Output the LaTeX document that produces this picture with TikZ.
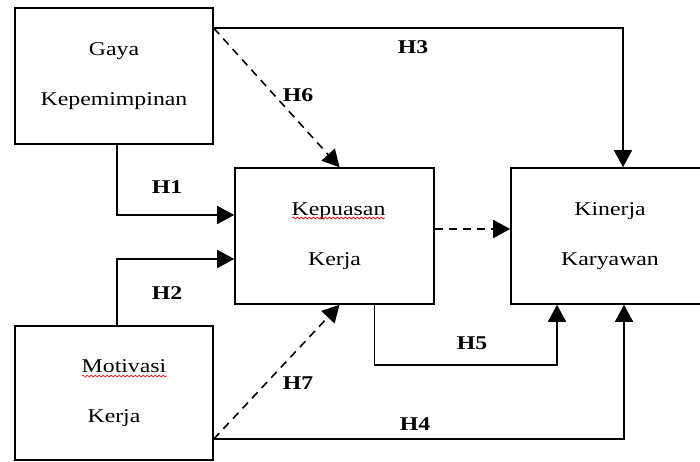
\documentclass[tikz,border=0pt]{standalone}
\usepackage{fontspec}
\setmainfont{Liberation Serif}
\usepackage{graphicx}
\usetikzlibrary{arrows.meta,calc,decorations.pathmorphing}
\newcommand\sx[1]{\scalebox{1.22}[1]{#1}}
\begin{document}
\begin{tikzpicture}[x=1pt,y=-1pt,
  box/.style={draw,line width=1.6pt,minimum width=198pt,minimum height=136pt,inner sep=0pt,align=center,font=\fontsize{19.5}{50}\selectfont},
  conn/.style={line width=1.6pt,-{Triangle[length=17pt,width=18pt]}},
  dconn/.style={conn,dash pattern=on 8pt off 6pt},
  hlab/.style={font=\fontsize{19.5}{20}\selectfont\bfseries,inner sep=0pt},
  squig/.style={red,line width=0.7pt,decorate,decoration={snake,amplitude=1pt,segment length=4pt}}]
\useasboundingbox (0,0) rectangle (700,462);
\clip (0,0) rectangle (700,462);
\node[box] (gaya) at (114,76) {\sx{Gaya}\\\sx{Kepemimpinan}};
\node[box,minimum width=199pt] (kep) at (334.5,236) {\hspace*{8pt}\sx{Kepuasan}\\\sx{Kerja}};
\node[box] (kin) at (610,236) {\sx{Kinerja}\\\sx{Karyawan}};
\node[box,minimum height=134pt] (mot) at (114,393) {\hspace*{20pt}\sx{Motivasi}\\\sx{Kerja}};
% connectors
\draw[conn] ($(gaya.north east)+(0,21)$) -| ($(kin.north)+(13,0)$);
\draw[dconn] ($(gaya.north east)+(0,21)$) -- ($(kep.north)+(5,0)$);
\draw[conn] ($(gaya.south)+(3,0)$) |- ($(kep.west)+(0,-21)$);
\draw[conn] ($(mot.north)+(3,0)$) |- ($(kep.west)+(0,23)$);
\draw[dconn] ($(kep.east)+(0,-7)$) -- ($(kin.west)+(0,-7)$);
\draw[conn] ($(kep.south)+(40,0)$) -- ($(kep.south)+(40,60)$) -| ($(kin.south)+(-53,0)$);
\draw[conn] ($(mot.east)+(0,46)$) -| ($(kin.south)+(14,0)$);
\draw[dconn] ($(mot.east)+(0,46)$) -- ($(kep.south)+(5,0)$);
% labels
\node[hlab] (h1) at (167,187) {\sx{H1}};
\node[hlab] (h2) at (167,293) {\sx{H2}};
\node[hlab] (h3) at (413,47) {\sx{H3}};
\node[hlab] (h4) at (415,424) {\sx{H4}};
\node[hlab] (h5) at (472,343) {\sx{H5}};
\node[hlab] (h6) at (298,95) {\sx{H6}};
\node[hlab] (h7) at (298,383) {\sx{H7}};
% spell-check underlines
\draw[squig] (292,218) -- (385,218);
\draw[squig] (82,376) -- (167,376);
\end{tikzpicture}
\end{document}
